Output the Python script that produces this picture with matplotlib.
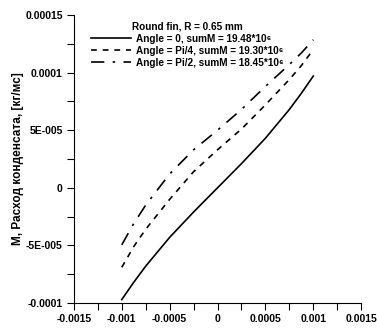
import matplotlib
matplotlib.use("Agg")
import matplotlib.pyplot as plt
from matplotlib.ticker import MultipleLocator

plt.rcParams['font.family'] = ['Liberation Sans', 'DejaVu Sans']
plt.rcParams['font.weight'] = 'bold'

x = [-0.001, -0.000875, -0.00075, -0.0005, -0.00025, 0.0, 0.00025, 0.0005, 0.00075, 0.000875, 0.001]
m_angle0 = [-9.7e-5, -8.2e-5, -6.8e-5, -4.3e-5, -2.1e-5, 0.0, 2.1e-5, 4.3e-5, 6.8e-5, 8.2e-5, 9.7e-5]
m_pi4 = [-6.9e-5, -5.1e-5, -3.6e-5, -1.0e-5, 1.4e-5, 3.3e-5, 5.1e-5, 7.2e-5, 9.4e-5, 1.06e-4, 1.2e-4]
m_pi2 = [-4.95e-5, -3.1e-5, -1.5e-5, 1.2e-5, 3.3e-5, 5.0e-5, 6.8e-5, 8.8e-5, 1.07e-4, 1.17e-4, 1.285e-4]

labels = ['Angle = 0, sumM = 19.48*10⁶',
          'Angle = Pi/4, sumM = 19.30*10⁶',
          'Angle = Pi/2, sumM = 18.45*10⁶']

yticks = [-0.0001, -0.00005, 0, 0.00005, 0.0001, 0.00015]
yticklabels = ['-0.0001', '-5E-005', '0', '5E-005', '0.0001', '0.00015']
xticks = [-0.0015, -0.001, -0.0005, 0, 0.0005, 0.001, 0.0015]
xticklabels = ['-0.0015', '-0.001', '-0.0005', '0', '0.0005', '0.001', '0.0015']

fig = plt.figure(figsize=(3.77, 3.33), dpi=100)
ax = fig.add_axes([0.196, 0.09, 0.762, 0.865])

ax.plot(x, m_angle0, color='black', lw=1.2, label=labels[0])
ax.plot(x, m_pi4, color='black', lw=1.2, dashes=(3.5, 3.5), label=labels[1])
ax.plot(x, m_pi2, color='black', lw=1.2, dashes=(8, 5, 1.5, 5), label=labels[2])

ax.set_xlim(-0.0015, 0.0015)
ax.set_ylim(-0.0001, 0.00015)
ax.set_xticks(xticks)
ax.set_xticklabels(xticklabels, fontsize=7.5, fontweight='bold')
ax.set_yticks(yticks)
ax.set_yticklabels(yticklabels, fontsize=7.5, fontweight='bold')
ax.xaxis.set_minor_locator(MultipleLocator(0.00025))
ax.yaxis.set_minor_locator(MultipleLocator(0.000025))
ax.tick_params(which='both', direction='out', length=5, width=0.8, pad=3)

for s in ['top', 'right']:
    ax.spines[s].set_visible(False)

ax.set_ylabel('M, Расход конденсата, [кг/мс]', fontsize=8.5, fontweight='bold', labelpad=1)

leg = ax.legend(loc='upper left', bbox_to_anchor=(0.04, 0.997), frameon=False,
                title='Round fin, R = 0.65 mm', fontsize=7.2, handlelength=4.0,
                handletextpad=0.5, labelspacing=0.2, borderaxespad=0.2)
leg.get_title().set_fontsize(7.2)
leg.get_title().set_fontweight('bold')

fig.savefig('out.png', dpi=100)
